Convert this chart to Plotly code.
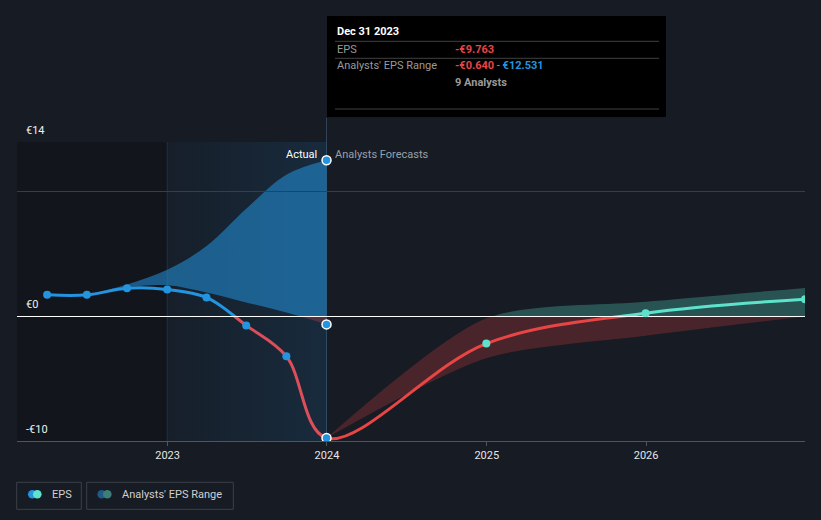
import datetime as dt
import plotly.graph_objects as go

# ---------------- data ----------------
actual_dates = ['2022-03-31', '2022-06-30', '2022-09-30', '2022-12-31',
                '2023-03-31', '2023-06-30', '2023-09-30', '2023-12-31']
actual_eps = [1.73, 1.73, 2.26, 2.16, 1.52, -0.72, -3.20, -9.763]

past_range_dates = ['2022-06-30', '2022-09-30', '2022-12-31', '2023-03-31',
                    '2023-06-30', '2023-09-30', '2023-12-31']
past_range_low = [1.73, 2.35, 2.50, 1.92, 1.12, 0.32, -0.640]
past_range_high = [1.73, 2.56, 3.74, 5.65, 8.64, 11.38, 12.531]

forecast_dates = ['2023-12-31', '2024-12-31', '2025-12-31', '2026-12-31']
forecast_eps = [-9.763, -2.18, 0.26, 1.38]
forecast_low = [-9.763, -3.35, -1.55, 0.00]
forecast_high = [-9.763, -0.15, 1.17, 2.29]

n_analysts = 9

y_label_vals = [14, 0, -10]
y_grid_vals = [-10, 0, 10, 14]
x_tick_vals = ['2023-01-01', '2024-01-01', '2025-01-01', '2026-01-01']
x_tick_text = ['2023', '2024', '2025', '2026']

# ---------------- layout constants ----------------
W, H = 821, 520
ML, MR, MT, MB = 17, 16, 142, 79
PW, PH = W - ML - MR, H - MT - MB
X0, X1 = '2022-01-21', '2026-12-31'
Y_MIN, Y_MAX = -10, 14
PAST_START = '2022-12-31'
SPLIT = forecast_dates[0]

BG = '#161b24'
BLUE = '#2394df'
CYAN = '#5de3cc'
RED_A = '#dc4e5a'
RED_F = '#e84545'
AXIS = '#50545c'
GRID = '#383d46'
FONT = 'Roboto'


def px(x):
    return (x - ML) / PW


def py(y):
    return (H - MB - y) / PH


def d(s):
    return dt.datetime.strptime(s, '%Y-%m-%d')


fx = (d(SPLIT) - d(X0)) / (d(X1) - d(X0))
fy = (0 - Y_MIN) / (Y_MAX - Y_MIN)

fig = go.Figure()

# background gradient for last actual year
fig.add_trace(go.Scatter(
    x=[PAST_START, SPLIT, SPLIT, PAST_START], y=[Y_MIN, Y_MIN, Y_MAX, Y_MAX],
    mode='none', fill='toself',
    fillgradient=dict(type='horizontal',
                      colorscale=[[0, 'rgba(35,148,223,0.03)'], [1, 'rgba(35,148,223,0.13)']]),
    xaxis='x', yaxis='y', hoverinfo='skip', showlegend=False))

# bands: above zero (y2) and below zero (y3)
band_sets = [
    ('y2', 'rgba(35,148,223,0.55)', 'rgba(88,229,200,0.28)'),
    ('y3', 'rgba(220,70,80,0.30)', 'rgba(230,65,65,0.25)'),
]
for yax, past_col, fut_col in band_sets:
    fig.add_trace(go.Scatter(x=past_range_dates, y=past_range_low, mode='lines',
                             line=dict(width=0, shape='spline', simplify=False),
                             xaxis='x', yaxis=yax, hoverinfo='skip', showlegend=False))
    fig.add_trace(go.Scatter(x=past_range_dates, y=past_range_high, mode='lines',
                             line=dict(width=0, shape='spline', simplify=False),
                             fill='tonexty', fillcolor=past_col,
                             xaxis='x', yaxis=yax, hoverinfo='skip', showlegend=False))
    fig.add_trace(go.Scatter(x=forecast_dates, y=forecast_low, mode='lines',
                             line=dict(width=0, shape='spline', smoothing=0.75, simplify=False),
                             xaxis='x', yaxis=yax, hoverinfo='skip', showlegend=False))
    fig.add_trace(go.Scatter(x=forecast_dates, y=forecast_high, mode='lines',
                             line=dict(width=0, shape='spline', smoothing=0.75, simplify=False),
                             fill='tonexty', fillcolor=fut_col,
                             xaxis='x', yaxis=yax, hoverinfo='skip', showlegend=False))

# lines (continuation points for smooth joins; clipped at the split date)
actual_line_x = actual_dates + forecast_dates[1:2]
actual_line_y = actual_eps + forecast_eps[1:2]
forecast_line_x = actual_dates[-2:-1] + forecast_dates
forecast_line_y = actual_eps[-2:-1] + forecast_eps

for xax, xs, ys, up_col, dn_col in [('x2', actual_line_x, actual_line_y, BLUE, RED_A),
                                    ('x3', forecast_line_x, forecast_line_y, CYAN, RED_F)]:
    for yax, col in [('y2', up_col), ('y3', dn_col)]:
        fig.add_trace(go.Scatter(x=xs, y=ys, mode='lines',
                                 line=dict(width=3, color=col, shape='spline', simplify=False),
                                 xaxis=xax, yaxis=yax, hoverinfo='skip', showlegend=False))

# markers
fig.add_trace(go.Scatter(x=actual_dates[:-1], y=actual_eps[:-1], mode='markers',
                         marker=dict(size=8, color=BLUE),
                         xaxis='x4', yaxis='y4', hoverinfo='skip', showlegend=False))
fig.add_trace(go.Scatter(x=forecast_dates[1:], y=forecast_eps[1:], mode='markers',
                         marker=dict(size=8, color=CYAN),
                         xaxis='x4', yaxis='y4', hoverinfo='skip', showlegend=False))
fig.add_trace(go.Scatter(x=[SPLIT] * 3,
                         y=[past_range_high[-1], past_range_low[-1], actual_eps[-1]],
                         mode='markers',
                         marker=dict(size=9, color=BLUE, line=dict(color='white', width=1.5)),
                         xaxis='x4', yaxis='y4', hoverinfo='skip', showlegend=False))

hidden = dict(visible=False, fixedrange=True)
fig.update_layout(
    width=W, height=H,
    margin=dict(l=ML, r=MR, t=MT, b=MB, pad=0),
    paper_bgcolor=BG, plot_bgcolor='rgba(0,0,0,0)',
    font=dict(family=FONT, size=11, color='#e0e0e0'),
    showlegend=False, hovermode=False,
    xaxis=dict(domain=[0, 1], range=[X0, X1], type='date', anchor='y',
               tickvals=x_tick_vals, ticktext=x_tick_text,
               showline=True, linecolor=AXIS, linewidth=1,
               ticks='outside', ticklen=4, tickcolor=AXIS, tickwidth=1,
               showgrid=False, zeroline=False, fixedrange=True,
               tickfont=dict(family=FONT, size=11, color='#e6e6e6')),
    xaxis2=dict(domain=[0, fx], range=[X0, SPLIT], type='date', anchor='y2', **hidden),
    xaxis3=dict(domain=[fx, 1], range=[SPLIT, X1], type='date', anchor='y2', **hidden),
    xaxis4=dict(domain=[0, 1], range=[X0, X1], type='date', anchor='y4', **hidden),
    yaxis=dict(domain=[0, 1], range=[Y_MIN, Y_MAX], anchor='x', **hidden),
    yaxis2=dict(domain=[fy, 1], range=[0, Y_MAX], anchor='x', **hidden),
    yaxis3=dict(domain=[0, fy], range=[Y_MIN, 0], anchor='x', **hidden),
    yaxis4=dict(domain=[0, 1], range=[Y_MIN, Y_MAX], anchor='x4',
                tickvals=y_grid_vals, showticklabels=False, ticks='',
                showgrid=True, gridcolor=GRID, gridwidth=1,
                zeroline=True, zerolinecolor='#ffffff', zerolinewidth=1,
                showline=False, fixedrange=True),
)

shapes = [
    dict(type='rect', xref='x', yref='paper', x0=X0, x1=PAST_START, y0=0, y1=1,
         fillcolor='#12151b', line=dict(width=0), layer='below'),
    dict(type='line', xref='x', yref='paper', x0=PAST_START, x1=PAST_START, y0=0, y1=1,
         line=dict(color='rgba(35,148,223,0.22)', width=1), layer='below'),
    dict(type='line', xref='x', yref='paper', x0=SPLIT, x1=SPLIT, y0=0, y1=py(118),
         line=dict(color='#33455a', width=1), layer='below'),
    # tooltip box
    dict(type='rect', xref='paper', yref='paper', x0=px(327), x1=px(666), y0=py(117), y1=py(16),
         fillcolor='#000000', line=dict(width=0), layer='above'),
]
for yy in [41.3, 58.3, 109]:
    shapes.append(dict(type='line', xref='paper', yref='paper', x0=px(335), x1=px(659),
                       y0=py(yy), y1=py(yy), line=dict(color='#404040', width=1), layer='above'))

# legend boxes
for bx0, bx1 in [(16.7, 81.3), (86.7, 233.3)]:
    shapes.append(dict(type='rect', xref='paper', yref='paper', x0=px(bx0), x1=px(bx1),
                       y0=py(509.3), y1=py(482.3), line=dict(color='#3b4049', width=1),
                       fillcolor='rgba(0,0,0,0)', layer='above'))
for cx, col in [(32.3, BLUE), (37.3, CYAN), (101.7, '#1f5a8a'), (107.3, '#3c7f78')]:
    r = 4.3
    shapes.append(dict(type='circle', xref='paper', yref='paper', x0=px(cx - r), x1=px(cx + r),
                       y0=py(494.3 + r), y1=py(494.3 - r), fillcolor=col, line=dict(width=0),
                       layer='above'))
fig.update_layout(shapes=shapes)


def euro(v):
    return ('-€' if v < 0 else '€') + f'{abs(v):.3f}'


def euro_tick(v):
    return ('-€' if v < 0 else '€') + f'{abs(v):g}'


GRAY = '#9a9a9a'
RED_T = '#e84545'
ann = []
# y-axis labels
for v in y_label_vals:
    ann.append(dict(text=euro_tick(v), xref='paper', yref='y4', x=px(24), y=v,
                    xanchor='left', yanchor='middle', yshift=12, showarrow=False,
                    font=dict(size=11, color='#f0f0f0')))
# Actual / Analysts Forecasts
ann.append(dict(text='Actual', xref='x4', yref='paper', x=SPLIT, y=py(154), xanchor='right',
                yanchor='middle', xshift=-8, showarrow=False, font=dict(size=11, color='#ffffff')))
ann.append(dict(text='Analysts Forecasts', xref='x4', yref='paper', x=SPLIT, y=py(154),
                xanchor='left', yanchor='middle', xshift=6, showarrow=False,
                font=dict(size=11, color='#9aa0a8')))

# tooltip text
split_label = d(SPLIT).strftime('%b %d %Y')
tt = [
    (335, 31.7, f'<b>{split_label}</b>', '#ffffff'),
    (335, 49.3, 'EPS', GRAY),
    (453, 49.3, f'<b>{euro(actual_eps[-1])}</b>', RED_T),
    (335, 66.0, "Analysts' EPS Range", GRAY),
    (453, 66.0, f'<span style="color:{RED_T}"><b>{euro(past_range_low[-1])}</b></span>'
                f'<span style="color:{GRAY}"> - </span>'
                f'<span style="color:{BLUE}"><b>{euro(past_range_high[-1])}</b></span>', GRAY),
    (453, 82.7, f'<b>{n_analysts} Analysts</b>', GRAY),
]
for x, y, t, c in tt:
    ann.append(dict(text=t, xref='paper', yref='paper', x=px(x), y=py(y), xanchor='left',
                    yanchor='middle', showarrow=False, font=dict(size=11, color=c)))

# legend text
ann.append(dict(text='EPS', xref='paper', yref='paper', x=px(50), y=py(494.5), xanchor='left',
                yanchor='middle', showarrow=False, font=dict(size=11, color='#d0d0d0')))
ann.append(dict(text="Analysts' EPS Range", xref='paper', yref='paper', x=px(120), y=py(494.5),
                xanchor='left', yanchor='middle', showarrow=False,
                font=dict(size=11, color='#d0d0d0')))
fig.update_layout(annotations=ann)

fig.write_html('out.html', config={'displayModeBar': False},
               post_script="document.body.style.margin='0';document.body.style.background='"
                           + BG + "';")
